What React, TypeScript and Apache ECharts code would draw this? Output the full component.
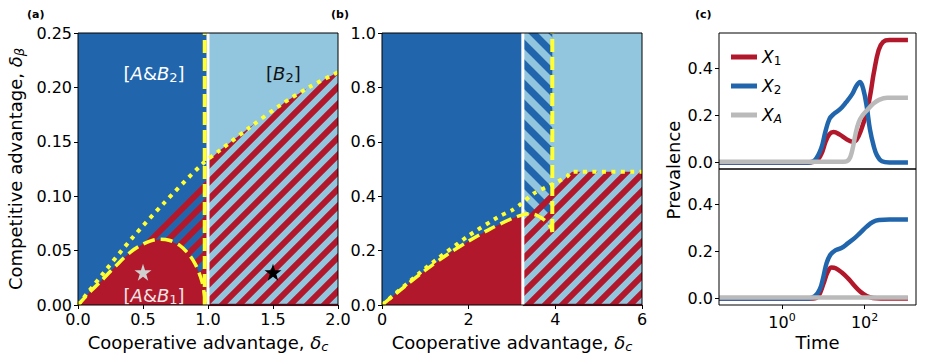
import React, { useEffect, useRef } from 'react';
import * as echarts from 'echarts';

const FONT = 'DejaVu Sans';
const DARK_BLUE = '#2166ac';
const LIGHT_BLUE = '#92c5de';
const RED = '#b2182b';
const YELLOW = '#ffff33';
const GREY = '#bababa';

// ---------- Panel (a) ----------
const aXRange = [0, 2];
const aYRange = [0, 0.25];
const aSplitX = 1.0;
const aVDashX = 0.975;
const aRedBoundary: number[][] = [
  [0, 0], [0.05, 0.0065], [0.1, 0.013], [0.17, 0.021], [0.25, 0.031], [0.3, 0.037],
  [0.35, 0.043], [0.43, 0.051], [0.5, 0.056], [0.56, 0.059], [0.63, 0.0605], [0.7, 0.0595],
  [0.78, 0.055], [0.85, 0.047], [0.9, 0.038], [0.93, 0.03], [0.955, 0.021], [0.972, 0.01], [0.983, 0],
];
const aDotted: number[][] = [
  [0, 0], [0.2, 0.03], [0.413, 0.061], [0.656, 0.093], [0.951, 0.129], [1.1, 0.143],
  [1.33, 0.164], [1.56, 0.184], [1.79, 0.201], [2.0, 0.214],
];
const aHatchLeftTop: number[][] = [[0.42, 0.0515], [0.6, 0.075], [0.8, 0.099], [1.0, 0.123]];
const aHatchRightTop: number[][] = [
  [1.0, 0.1336], [1.1, 0.143], [1.33, 0.164], [1.56, 0.184], [1.79, 0.201], [2.0, 0.214],
];
const aStarLight: number[][] = [[0.5, 0.03]];
const aStarDark: number[][] = [[1.5, 0.03]];
const aLabelB2Left = { x: 0.585, y: 0.213, text: '{n|[}{i|A}{n|&}{i|B}{s|2}{n|]}' };
const aLabelB2Right = { x: 1.58, y: 0.213, text: '{n|[}{i|B}{s|2}{n|]}' };
const aLabelB1 = { x: 0.585, y: 0.009, text: '{n|[}{i|A}{n|&}{i|B}{s|1}{n|]}' };

// ---------- Panel (b) ----------
const bXRange = [0, 6];
const bYRange = [0, 1];
const bSplitX = 3.25;
const bVDashX = 3.93;
const bRedBoundary: number[][] = [
  [0, 0], [0.5, 0.065], [1, 0.128], [1.5, 0.185], [2, 0.235], [2.5, 0.28], [3, 0.318], [3.25, 0.332],
];
const bDashedArc: number[][] = [
  [3.25, 0.332], [3.4, 0.336], [3.55, 0.331], [3.7, 0.318], [3.82, 0.302], [3.9, 0.284], [3.93, 0.268],
];
const bDotted: number[][] = [
  [0, 0], [1, 0.135], [2, 0.255], [2.73, 0.328], [3.0, 0.348], [3.18, 0.368], [3.5, 0.41],
  [3.88, 0.44], [4.27, 0.472], [4.38, 0.49], [6, 0.49],
];
const bRedHatchTop: number[][] = [[3.25, 0.335], [3.6, 0.385], [4.0, 0.445], [4.38, 0.49], [6, 0.49]];

// ---------- Panel (c) ----------  x = log10(time)
const cXRange = [-1.525, 3.245];
const cYRange = [-0.028, 0.55];
const cXTicks = [0, 2];
const cYTicks = [0, 0.2, 0.4];
const cTopX1: number[][] = [
  [-1.525, 0], [0.5, 0], [0.8, 0.004], [0.95, 0.035], [1.05, 0.085], [1.15, 0.12], [1.25, 0.129],
  [1.4, 0.118], [1.55, 0.1], [1.7, 0.088], [1.8, 0.095], [1.92, 0.14], [2.06, 0.22], [2.15, 0.3],
  [2.22, 0.377], [2.34, 0.477], [2.45, 0.512], [2.6, 0.52], [3.05, 0.52],
];
const cTopX2: number[][] = [
  [-1.525, 0], [0.65, 0], [0.8, 0.01], [0.95, 0.06], [1.05, 0.13], [1.15, 0.185], [1.25, 0.205],
  [1.4, 0.225], [1.55, 0.255], [1.7, 0.29], [1.8, 0.325], [1.89, 0.342], [1.97, 0.31], [2.05, 0.24],
  [2.13, 0.14], [2.22, 0.07], [2.3, 0.03], [2.42, 0.005], [2.6, 0], [3.05, 0],
];
const cTopXA: number[][] = [
  [-1.525, 0.003], [1.5, 0.003], [1.62, 0.012], [1.7, 0.05], [1.78, 0.12], [1.86, 0.172],
  [1.95, 0.2], [2.06, 0.222], [2.2, 0.248], [2.35, 0.266], [2.55, 0.275], [3.05, 0.275],
];
const cBotX1: number[][] = [
  [-1.525, 0], [0.75, 0], [0.88, 0.01], [1.0, 0.06], [1.1, 0.11], [1.2, 0.131], [1.3, 0.128],
  [1.45, 0.11], [1.6, 0.085], [1.75, 0.055], [1.9, 0.028], [2.05, 0.01], [2.2, 0.002], [2.4, 0], [3.05, 0],
];
const cBotX2: number[][] = [
  [-1.525, 0], [0.65, 0], [0.8, 0.01], [0.92, 0.04], [1.0, 0.09], [1.08, 0.15], [1.17, 0.185],
  [1.3, 0.205], [1.45, 0.215], [1.6, 0.235], [1.75, 0.255], [1.9, 0.28], [2.05, 0.305],
  [2.2, 0.325], [2.35, 0.333], [2.6, 0.335], [3.05, 0.335],
];
const cBotXA: number[][] = [[-1.525, 0.004], [3.05, 0.004]];

// ---------- helpers ----------
function stripePattern(color: string, P: number, w: number, up: boolean) {
  const h = P / 2;
  const d = up
    ? `M${-h},${h} L${h},${-h} M0,${P} L${P},0 M${h},${P + h} L${P + h},${h}`
    : `M${-h},${h} L${h},${P + h} M0,0 L${P},${P} M${h},${-h} L${P + h},${h}`;
  const svg = `<svg xmlns="http://www.w3.org/2000/svg" width="${P}" height="${P}"><path d="${d}" stroke="${color}" stroke-width="${w}" fill="none"/></svg>`;
  return {
    image: 'data:image/svg+xml;charset=utf-8,' + encodeURIComponent(svg),
    repeat: 'repeat',
    imageWidth: P,
    imageHeight: P,
  };
}

function polySeries(idx: number, pts: number[][], fill: any, z: number) {
  return {
    type: 'custom',
    xAxisIndex: idx,
    yAxisIndex: idx,
    clip: true,
    silent: true,
    z,
    data: [pts[0]],
    renderItem: (_p: any, api: any) => ({
      type: 'polygon',
      shape: { points: pts.map((p) => api.coord(p)) },
      style: { fill, stroke: null },
    }),
  };
}

function lineSeries(idx: number, pts: number[][], color: string, width: number, dash: any, z: number, smooth: any = false, name?: string) {
  return {
    type: 'line',
    name,
    xAxisIndex: idx,
    yAxisIndex: idx,
    data: pts,
    symbol: 'none',
    showSymbol: false,
    clip: true,
    silent: true,
    smooth,
    z,
    color,
    itemStyle: { color },
    lineStyle: { color, width, type: dash, cap: 'butt', join: 'round' },
  };
}

function rectPts(x0: number, x1: number, y0: number, y1: number) {
  return [[x0, y0], [x1, y0], [x1, y1], [x0, y1]];
}

const STAR = 'path://M50,0 L61.8,35.1 L98.9,35.1 L68.9,56.9 L80.2,92.2 L50,70.4 L19.8,92.2 L31.1,56.9 L1.1,35.1 L38.2,35.1 Z';

function regionRich(color: string) {
  return {
    n: { fontFamily: FONT, fontSize: 18, lineHeight: 24, color, opacity: 1 },
    i: { fontFamily: FONT, fontSize: 18, lineHeight: 24, fontStyle: 'italic', color, opacity: 1 },
    s: { fontFamily: FONT, fontSize: 13, lineHeight: 16, padding: [8, 0, 0, 0], color, opacity: 1 },
  };
}

function labelSeries(idx: number, lab: { x: number; y: number; text: string }, color: string) {
  return {
    type: 'scatter',
    xAxisIndex: idx,
    yAxisIndex: idx,
    silent: true,
    z: 8,
    symbolSize: 1,
    itemStyle: { color: 'rgba(0,0,0,0)', opacity: 1 },
    data: [[lab.x, lab.y]],
    label: {
      show: true,
      position: 'inside',
      align: 'center',
      verticalAlign: 'middle',
      formatter: () => lab.text,
      color,
      opacity: 1,
      textBorderWidth: 0,
      rich: regionRich(color),
    },
  };
}

const axisNameRich = {
  i: { fontFamily: FONT, fontSize: 18, fontStyle: 'italic', lineHeight: 24, color: '#000' },
  s: { fontFamily: FONT, fontSize: 13, fontStyle: 'italic', lineHeight: 16, padding: [8, 0, 0, 0], color: '#000' },
};

function valueAxis(gridIndex: number, range: number[], extra: any) {
  return {
    type: 'value',
    gridIndex,
    min: range[0],
    max: range[1],
    z: 11,
    splitLine: { show: false },
    axisLine: { show: false, onZero: false },
    axisTick: { show: true, length: 4, inside: false, lineStyle: { color: '#000', width: 1 } },
    axisLabel: { color: '#000', fontFamily: FONT, fontSize: 16, margin: 6 },
    ...extra,
  };
}

export default function App() {
  const ref = useRef<HTMLDivElement>(null);
  useEffect(() => {
    if (!ref.current) return;
    const chart = echarts.init(ref.current, undefined, { renderer: 'svg' });
    const redStripes = stripePattern(RED, 17, 6, true);
    const blueStripes = stripePattern(DARK_BLUE, 20, 7, false);

    const grids = [
      { left: 78, top: 33, width: 260, height: 272 },
      { left: 382, top: 33, width: 260, height: 272 },
      { left: 719, top: 33, width: 197, height: 136 },
      { left: 719, top: 169, width: 197, height: 136 },
    ].map((g) => ({ ...g, show: true, z: 10, borderColor: '#000', borderWidth: 1, backgroundColor: 'rgba(0,0,0,0)' }));

    const xAxes = [
      valueAxis(0, aXRange, {
        interval: 0.5,
        axisLabel: { color: '#000', fontFamily: FONT, fontSize: 16, margin: 6, formatter: (v: number) => v.toFixed(1) },
        name: 'Cooperative advantage, {i|δ}{s|c}',
        nameLocation: 'middle',
        nameGap: 25,
        nameTextStyle: { fontFamily: FONT, fontSize: 18, color: '#000', rich: axisNameRich },
      }),
      valueAxis(1, bXRange, {
        interval: 2,
        axisLabel: { color: '#000', fontFamily: FONT, fontSize: 16, margin: 6, formatter: (v: number) => v.toFixed(0) },
        name: 'Cooperative advantage, {i|δ}{s|c}',
        nameLocation: 'middle',
        nameGap: 25,
        nameTextStyle: { fontFamily: FONT, fontSize: 18, color: '#000', rich: axisNameRich },
      }),
      valueAxis(2, cXRange, {
        axisTick: { show: false },
        axisLabel: { show: false },
      }),
      valueAxis(3, cXRange, {
        axisTick: { show: true, length: 4, customValues: cXTicks, lineStyle: { color: '#000', width: 1 } },
        axisLabel: {
          color: '#000', fontFamily: FONT, fontSize: 16, margin: 6,
          customValues: cXTicks,
          formatter: (v: number) => `{b|10}{sup|${Math.round(v)}}`,
          rich: {
            b: { fontFamily: FONT, fontSize: 16, lineHeight: 22, color: '#000' },
            sup: { fontFamily: FONT, fontSize: 11, lineHeight: 12, padding: [0, 0, 10, 0], color: '#000' },
          },
        },
        name: 'Time',
        nameLocation: 'middle',
        nameGap: 27,
        nameTextStyle: { fontFamily: FONT, fontSize: 18, color: '#000' },
      }),
    ];

    const yAxes = [
      valueAxis(0, aYRange, {
        interval: 0.05,
        axisLabel: { color: '#000', fontFamily: FONT, fontSize: 16, margin: 6, formatter: (v: number) => v.toFixed(2) },
        name: 'Competitive advantage, {i|δ}{s|β}',
        nameLocation: 'middle',
        nameGap: 51,
        nameRotate: 90,
        nameTextStyle: { fontFamily: FONT, fontSize: 18, color: '#000', rich: axisNameRich },
      }),
      valueAxis(1, bYRange, {
        interval: 0.2,
        axisLabel: { color: '#000', fontFamily: FONT, fontSize: 16, margin: 6, formatter: (v: number) => v.toFixed(1) },
      }),
      valueAxis(2, cYRange, {
        axisTick: { show: true, length: 4, customValues: cYTicks, lineStyle: { color: '#000', width: 1 } },
        axisLabel: { color: '#000', fontFamily: FONT, fontSize: 16, margin: 6, customValues: cYTicks, formatter: (v: number) => v.toFixed(1) },
      }),
      valueAxis(3, cYRange, {
        axisTick: { show: true, length: 4, customValues: cYTicks, lineStyle: { color: '#000', width: 1 } },
        axisLabel: { color: '#000', fontFamily: FONT, fontSize: 16, margin: 6, customValues: cYTicks, formatter: (v: number) => v.toFixed(1) },
      }),
    ];

    const series: any[] = [
      // Panel (a)
      polySeries(0, rectPts(aXRange[0], aSplitX, aYRange[0], aYRange[1]), DARK_BLUE, 1),
      polySeries(0, rectPts(aSplitX, aXRange[1], aYRange[0], aYRange[1]), LIGHT_BLUE, 1),
      polySeries(0, [...aHatchLeftTop, [aSplitX, 0], [aHatchLeftTop[0][0], 0]], redStripes, 2),
      polySeries(0, [...aHatchRightTop, [aXRange[1], 0], [aSplitX, 0]], redStripes, 2),
      polySeries(0, [...aRedBoundary, [0, 0]], RED, 3),
      lineSeries(0, [[aSplitX, 0], [aXRange[1], 0]], '#8e1b2c', 2.5, 'solid', 4),
      lineSeries(0, [[aSplitX, aYRange[0]], [aSplitX, aYRange[1]]], '#ffffff', 3, 'solid', 4),
      lineSeries(0, aDotted, YELLOW, 4, [4, 5.4], 5, 0.3),
      lineSeries(0, aRedBoundary, YELLOW, 3.5, [12, 6], 5, 0.3),
      lineSeries(0, [[aVDashX, aYRange[0]], [aVDashX, aYRange[1]]], YELLOW, 4, [13, 5], 5),
      {
        type: 'scatter', xAxisIndex: 0, yAxisIndex: 0, silent: true, z: 7,
        symbol: STAR, symbolSize: 17, itemStyle: { color: '#cfcfcf', opacity: 1 }, data: aStarLight,
      },
      {
        type: 'scatter', xAxisIndex: 0, yAxisIndex: 0, silent: true, z: 7,
        symbol: STAR, symbolSize: 17, itemStyle: { color: '#000', opacity: 1 }, data: aStarDark,
      },
      labelSeries(0, aLabelB2Left, '#ffffff'),
      labelSeries(0, aLabelB2Right, '#111111'),
      labelSeries(0, aLabelB1, '#f3e4e6'),

      // Panel (b)
      polySeries(1, rectPts(bXRange[0], bSplitX, bYRange[0], bYRange[1]), DARK_BLUE, 1),
      polySeries(1, rectPts(bSplitX, bXRange[1], bYRange[0], bYRange[1]), LIGHT_BLUE, 1),
      polySeries(1, [[bSplitX, bYRange[1]], [bVDashX, bYRange[1]], ...bDashedArc.slice().reverse()], blueStripes, 2),
      polySeries(1, [...bRedHatchTop, [bXRange[1], 0], [bSplitX, 0]], redStripes, 2),
      polySeries(1, [...bRedBoundary, [bSplitX, 0], [0, 0]], RED, 3),
      lineSeries(1, [[bSplitX, 0], [bXRange[1], 0]], '#8e1b2c', 2.5, 'solid', 4),
      lineSeries(1, [[bSplitX, bYRange[0]], [bSplitX, bYRange[1]]], '#ffffff', 3, 'solid', 4),
      lineSeries(1, bDotted, YELLOW, 4, [4, 5.4], 5, 0.2),
      lineSeries(1, [...bRedBoundary, ...bDashedArc.slice(1)], YELLOW, 3.5, [12, 6], 5, 0.3),
      lineSeries(1, [[bVDashX, bDashedArc[bDashedArc.length - 1][1]], [bVDashX, bYRange[1]]], YELLOW, 4, [13, 5], 5),

      // Panel (c)
      lineSeries(2, cTopX1, RED, 4.5, 'solid', 4, 0.4, 'X1'),
      lineSeries(2, cTopX2, DARK_BLUE, 4.5, 'solid', 4, 0.4, 'X2'),
      lineSeries(2, cTopXA, GREY, 4.5, 'solid', 4, 0.4, 'XA'),
      lineSeries(3, cBotX1, RED, 4.5, 'solid', 4, 0.4, 'X1'),
      lineSeries(3, cBotX2, DARK_BLUE, 4.5, 'solid', 4, 0.4, 'X2'),
      lineSeries(3, cBotXA, GREY, 4.5, 'solid', 4, 0.4, 'XA'),
    ];

    const legendRich = {
      i: { fontFamily: FONT, fontSize: 17, fontStyle: 'italic', lineHeight: 22, color: '#000' },
      s: { fontFamily: FONT, fontSize: 12, lineHeight: 14, padding: [8, 0, 0, 0], color: '#000' },
      si: { fontFamily: FONT, fontSize: 12, fontStyle: 'italic', lineHeight: 14, padding: [8, 0, 0, 0], color: '#000' },
    };

    chart.setOption({
      animation: false,
      backgroundColor: '#ffffff',
      grid: grids,
      xAxis: xAxes,
      yAxis: yAxes,
      legend: {
        data: ['X1', 'X2', 'XA'],
        orient: 'vertical',
        left: 731,
        top: 47,
        itemWidth: 26,
        itemHeight: 5,
        itemGap: 9,
        icon: 'rect',
        selectedMode: false,
        padding: 0,
        formatter: (n: string) => (n === 'XA' ? '{i|X}{si|A}' : `{i|X}{s|${n.slice(1)}}`),
        textStyle: { fontFamily: FONT, fontSize: 17, color: '#000', rich: legendRich },
      },
      graphic: [
        { type: 'text', x: 27, y: 14, style: { text: '(a)', fontFamily: FONT, fontSize: 11, fontWeight: 'bold', fill: '#000', verticalAlign: 'middle' } },
        { type: 'text', x: 331, y: 14, style: { text: '(b)', fontFamily: FONT, fontSize: 11, fontWeight: 'bold', fill: '#000', verticalAlign: 'middle' } },
        { type: 'text', x: 695, y: 14, style: { text: '(c)', fontFamily: FONT, fontSize: 11, fontWeight: 'bold', fill: '#000', verticalAlign: 'middle' } },
        {
          type: 'text', x: 673, y: 170, rotation: Math.PI / 2,
          style: { text: 'Prevalence', fontFamily: FONT, fontSize: 18, fill: '#000', align: 'center', verticalAlign: 'middle' },
        },
      ],
      series,
    });
    return () => chart.dispose();
  }, []);
  return <div ref={ref} style={{ position: 'absolute', left: 0, top: 0, width: 925, height: 360 }} />;
}
